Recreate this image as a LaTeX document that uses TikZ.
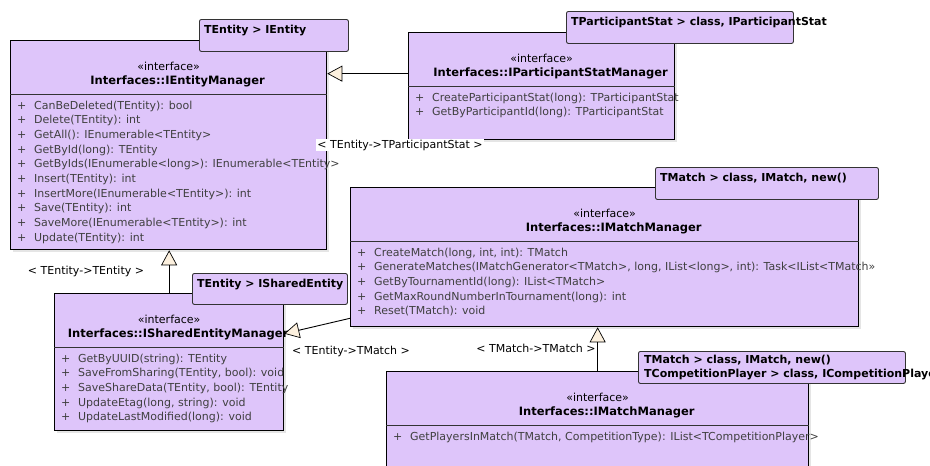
\documentclass[tikz,border=0pt]{standalone}
\usepackage{fontspec}
\setmainfont{DejaVu Sans}
\usetikzlibrary{arrows.meta,calc,shadows}

\definecolor{ifill}{RGB}{222,197,250}
\definecolor{tipfill}{RGB}{252,240,222}
\definecolor{optext}{RGB}{64,64,64}

\tikzset{
  ibox/.style={draw=black, line width=1.3pt, fill=ifill, inner sep=0pt, anchor=north west,
    drop shadow={shadow xshift=2pt, shadow yshift=-2pt, opacity=.2}},
  tbox/.style={draw=black!80, line width=0.9pt, fill=ifill, rounded corners=2pt, inner sep=0pt, anchor=north west},
  ttext/.style={font=\fontsize{11}{14}\selectfont\bfseries, inner sep=0pt, anchor=north west, align=left},
  stereo/.style={inner sep=0pt},
  iname/.style={font=\fontsize{11.5}{14}\selectfont\bfseries, inner sep=0pt, xshift=9pt},
  sepline/.style={line width=0.8pt, black!80},
  meth/.style={text=optext, inner sep=0pt, anchor=base west},
  gen/.style={line width=0.9pt, -{Triangle[length=15pt, width=16pt, fill=tipfill, line width=0.7pt]}},
  lbl/.style={inner sep=1pt, fill=white}
}

% kopf und trennlinie einer schnittstelle
\newcommand\ifacehead[2]{%
  \node[stereo] at ($(#1.north)+(0,26)$) {«interface»};
  \node[iname] at ($(#1.north)+(0,41)$) {#2};
  \draw[sepline] ($(#1.north west)+(0,54)$) -- ($(#1.north east)+(0,54)$);
}

\begin{document}
\begin{tikzpicture}[x=1pt,y=-1pt,font=\fontsize{11}{14}\selectfont]
  \clip (0,0) rectangle (930,466);
  \fill[white] (0,0) rectangle (930,466);

  % IEntityManager
  \node[ibox, minimum width=316pt, minimum height=209pt] (iem) at (10,40) {};
  \ifacehead{iem}{Interfaces::IEntityManager}
  \foreach \m [count=\i] in {CanBeDeleted(TEntity): bool, Delete(TEntity): int,
      GetAll(): IEnumerable<TEntity>, GetById(long): TEntity,
      GetByIds(IEnumerable<long>): IEnumerable<TEntity>, Insert(TEntity): int,
      InsertMore(IEnumerable<TEntity>): int, Save(TEntity): int,
      SaveMore(IEnumerable<TEntity>): int, Update(TEntity): int}
    \node[meth] at ($(iem.north west)+(7,{69+(\i-1)*14.7})$) {\makebox[17pt][l]{+}\m};
  \node[tbox, minimum width=149pt, minimum height=32pt] (iemt) at (199,19) {};
  \node[ttext] at ($(iemt.north west)+(5,6)$) {TEntity > IEntity};

  % IParticipantStatManager
  \node[ibox, minimum width=266pt, minimum height=107pt] (psm) at (408,32) {};
  \ifacehead{psm}{Interfaces::IParticipantStatManager}
  \foreach \m [count=\i] in {CreateParticipantStat(long): TParticipantStat,
      GetByParticipantId(long): TParticipantStat}
    \node[meth] at ($(psm.north west)+(7,{69+(\i-1)*14.7})$) {\makebox[17pt][l]{+}\m};
  \node[tbox, minimum width=227pt, minimum height=32pt] (psmt) at (566,11) {};
  \node[ttext] at ($(psmt.north west)+(5,6)$) {TParticipantStat > class, IParticipantStat};

  % IMatchManager (oben)
  \node[ibox, minimum width=508pt, minimum height=139pt] (mm) at (350,187) {};
  \ifacehead{mm}{Interfaces::IMatchManager}
  \foreach \m [count=\i] in {{CreateMatch(long, int, int): TMatch},
      {GenerateMatches(IMatchGenerator<TMatch>, long, IList<long>, int): Task<IList<TMatch>>},
      GetByTournamentId(long): IList<TMatch>,
      GetMaxRoundNumberInTournament(long): int, Reset(TMatch): void}
    \node[meth] at ($(mm.north west)+(7,{69+(\i-1)*14.7})$) {\makebox[17pt][l]{+}\m};
  \node[tbox, minimum width=223pt, minimum height=32pt] (mmt) at (655,167) {};
  \node[ttext] at ($(mmt.north west)+(5,6)$) {TMatch > class, IMatch, new()};

  % ISharedEntityManager
  \node[ibox, minimum width=229pt, minimum height=137pt] (sem) at (54,293) {};
  \ifacehead{sem}{Interfaces::ISharedEntityManager}
  \foreach \m [count=\i] in {GetByUUID(string): TEntity,
      {SaveFromSharing(TEntity, bool): void}, {SaveShareData(TEntity, bool): TEntity},
      {UpdateEtag(long, string): void}, UpdateLastModified(long): void}
    \node[meth] at ($(sem.north west)+(7,{69+(\i-1)*14.7})$) {\makebox[17pt][l]{+}\m};
  \node[tbox, minimum width=155pt, minimum height=31pt] (semt) at (192,273) {};
  \node[ttext] at ($(semt.north west)+(5,6)$) {TEntity > ISharedEntity};

  % IMatchManager (unten)
  \node[ibox, minimum width=422pt, minimum height=120pt] (mmp) at (386,371) {};
  \ifacehead{mmp}{Interfaces::IMatchManager}
  \node[meth] at ($(mmp.north west)+(7,69)$)
    {\makebox[17pt][l]{+}GetPlayersInMatch(TMatch, CompetitionType): IList<TCompetitionPlayer>};
  \node[tbox, minimum width=267pt, minimum height=32pt] (mmpt) at (638,351) {};
  \node[ttext] at ($(mmpt.north west)+(6,4)$)
    {TMatch > class, IMatch, new()\\TCompetitionPlayer > class, ICompetitionPlayer};

  % Generalisierungen
  \draw[gen] ([yshift=12.5pt]psm.west) -- ([yshift=12.5pt]psm.west -| iem.east);
  \draw[gen] (sem.north) -- (sem.north |- iem.south);
  \draw[gen] ([yshift=9pt]mm.south west) -- ([yshift=28.5pt]sem.east);
  \draw[gen] (mmp.north) -- (mmp.north |- mm.south);

  % Bindungen
  \node[lbl] (l1) at (400,145) {< TEntity->TParticipantStat >};
  \node[lbl] (l2) at (86,271) {< TEntity->TEntity >};
  \node[lbl] (l3) at (351,351) {< TEntity->TMatch >};
  \node[lbl] (l4) at (536,348) {< TMatch->TMatch >};
\end{tikzpicture}
\end{document}
